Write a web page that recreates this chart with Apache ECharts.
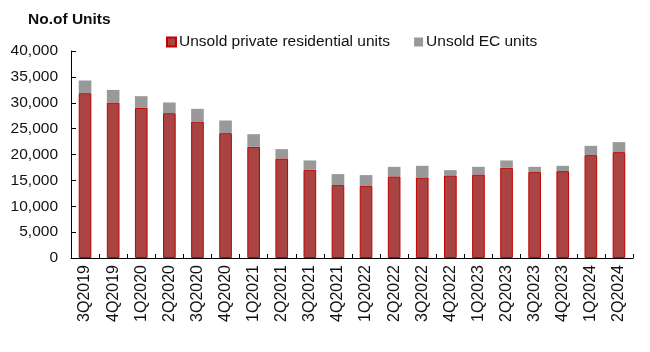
<!DOCTYPE html>
<html><head><meta charset="utf-8">
<script src="https://cdn.jsdelivr.net/npm/echarts@6/dist/echarts.min.js"></script>
<style>html,body{margin:0;padding:0;background:#fff}#c{width:650px;height:352px}</style>
</head><body><div id="c"></div>
<script>
var categories = ["3Q2019","4Q2019","1Q2020","2Q2020","3Q2020","4Q2020","1Q2021","2Q2021","3Q2021","4Q2021","1Q2022","2Q2022","3Q2022","4Q2022","1Q2023","2Q2023","3Q2023","4Q2023","1Q2024","2Q2024"];
var privateUnits = [31850,30050,29000,27990,26380,24130,21480,19240,17040,14090,13900,15770,15570,15960,16150,17430,16600,16790,19880,20460];
var ecUnits = [2450,2430,2270,2060,2440,2440,2450,1800,1810,2120,2120,1850,2240,1020,1470,1420,1020,1020,1790,1930];
var yTicks = [0,5000,10000,15000,20000,25000,30000,35000,40000];

var chart = echarts.init(document.getElementById('c'), null, {renderer:'canvas'});
chart.setOption({
  animation:false,
  backgroundColor:'#fff',
  title:{text:'No.of Units', left:23, top:7, textStyle:{fontFamily:'Liberation Sans, Arial', fontSize:15.5, fontWeight:'bold', color:'#111'}},
  legend:{top:29, left:161, itemWidth:9, itemHeight:9, itemGap:24, icon:'rect',
    textStyle:{fontFamily:'Liberation Sans, Arial', fontSize:15.5, color:'#111', padding:[0,0,0,-2]},
    data:['Unsold private residential units','Unsold EC units']},
  grid:{left:71, right:17, top:51, bottom:94},
  xAxis:{type:'category', data:categories,
    axisLine:{lineStyle:{color:'#000', width:1}},
    axisTick:{show:true, inside:true, length:4, alignWithLabel:false, lineStyle:{color:'#000'}},
    axisLabel:{rotate:90, margin:7, fontFamily:'Liberation Sans, Arial', fontSize:16, color:'#111', interval:0}},
  yAxis:{type:'value', min:yTicks[0], max:yTicks[yTicks.length-1], interval:5000,
    splitLine:{show:false},
    axisLine:{show:true, lineStyle:{color:'#000', width:1}},
    axisTick:{show:true, inside:true, length:5, lineStyle:{color:'#000'}},
    axisLabel:{margin:13, fontFamily:'Liberation Sans, Arial', fontSize:15.5, color:'#111',
      formatter:function(v){return v.toLocaleString('en-US');}}},
  series:[
    {name:'Unsold private residential units', type:'bar', stack:'a', data:privateUnits, barWidth:'45%',
     itemStyle:{color:'#A94442', borderColor:'#C00000', borderWidth:1}},
    {name:'Unsold EC units', type:'bar', stack:'a', data:ecUnits, barWidth:'45%',
     itemStyle:{color:'#999999', borderColor:'#999999', borderWidth:0}}
  ]
});
</script></body></html>
